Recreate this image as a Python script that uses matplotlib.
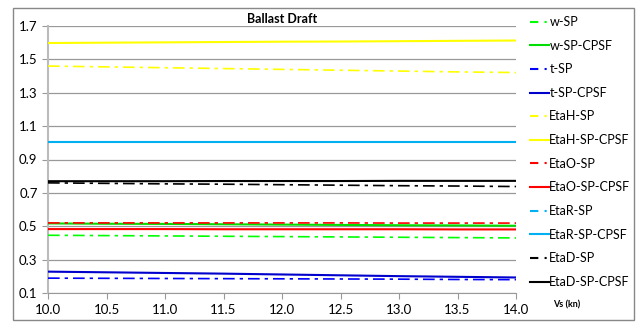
import matplotlib
matplotlib.use("Agg")
import matplotlib.pyplot as plt
from matplotlib.patches import Rectangle
from matplotlib.lines import Line2D

plt.rcParams['font.family'] = ['Lato', 'DejaVu Sans']

vs = [10.0, 10.5, 11.0, 11.5, 12.0, 12.5, 13.0, 13.5, 14.0]

w_sp        = [0.446, 0.444, 0.442, 0.440, 0.438, 0.436, 0.434, 0.432, 0.430]
w_sp_cpsf   = [0.517, 0.515, 0.514, 0.512, 0.510, 0.508, 0.506, 0.505, 0.503]
t_sp        = [0.189, 0.188, 0.187, 0.186, 0.185, 0.184, 0.183, 0.181, 0.180]
t_sp_cpsf   = [0.228, 0.224, 0.220, 0.216, 0.211, 0.206, 0.201, 0.197, 0.193]
etah_sp     = [1.460, 1.455, 1.450, 1.445, 1.440, 1.435, 1.430, 1.425, 1.421]
etah_sp_cpsf= [1.598, 1.600, 1.602, 1.604, 1.606, 1.607, 1.609, 1.611, 1.613]
etao_sp     = [0.520, 0.520, 0.520, 0.520, 0.520, 0.520, 0.519, 0.519, 0.519]
etao_sp_cpsf= [0.483, 0.483, 0.483, 0.482, 0.482, 0.482, 0.482, 0.481, 0.481]
etar_sp     = [1.004, 1.004, 1.004, 1.004, 1.004, 1.004, 1.004, 1.004, 1.004]
etar_sp_cpsf= [1.007, 1.007, 1.007, 1.007, 1.007, 1.007, 1.007, 1.007, 1.007]
etad_sp     = [0.760, 0.757, 0.754, 0.752, 0.749, 0.746, 0.743, 0.741, 0.738]
etad_sp_cpsf= [0.770, 0.770, 0.770, 0.771, 0.771, 0.771, 0.772, 0.772, 0.772]

labels = ['w-SP', 'w-SP-CPSF', 't-SP', 't-SP-CPSF', 'EtaH-SP', 'EtaH-SP-CPSF',
          'EtaO-SP', 'EtaO-SP-CPSF', 'EtaR-SP', 'EtaR-SP-CPSF', 'EtaD-SP', 'EtaD-SP-CPSF']
series = [w_sp, w_sp_cpsf, t_sp, t_sp_cpsf, etah_sp, etah_sp_cpsf,
          etao_sp, etao_sp_cpsf, etar_sp, etar_sp_cpsf, etad_sp, etad_sp_cpsf]
colors = ['#00FF00', '#00DD00', '#0000FF', '#0000CC', '#FFFF00', '#FFFF00',
          '#FF0000', '#FF0000', '#00B0F0', '#00B0F0', '#000000', '#000000']

yticks = [0.1, 0.3, 0.5, 0.7, 0.9, 1.1, 1.3, 1.5, 1.7]
xticks = [10.0, 10.5, 11.0, 11.5, 12.0, 12.5, 13.0, 13.5, 14.0]

fig = plt.figure(figsize=(6.38, 3.25), dpi=100)
ax = fig.add_axes([48/638, 1 - 293/325, (516-48)/638, (293-26)/325])

dashdot = (0, (7, 3, 2, 3))
handles = []
for i, (lab, s, c) in enumerate(zip(labels, series, colors)):
    ls = dashdot if i % 2 == 0 else '-'
    lw = 1.2 if i % 2 == 0 else 1.5
    ax.plot(vs, s, color=c, linestyle=ls, linewidth=lw, zorder=3)
    handles.append(Line2D([0], [0], color=c, linestyle=(0, (4, 3, 1, 3)) if i % 2 == 0 else '-', linewidth=1.5))

ax.set_xlim(10.0, 14.0)
ax.set_ylim(0.1, 1.7)
ax.set_yticks(yticks)
ax.set_xticks(xticks)
ax.set_xticklabels([f"{v:.1f}" for v in xticks], fontsize=9.5)
ax.set_yticklabels([f"{v:.1f}" for v in yticks], fontsize=9.5)
ax.grid(axis='y', color='#999999', linewidth=0.9)
ax.set_axisbelow(True)
for sp in ['top', 'right']:
    ax.spines[sp].set_visible(False)
ax.spines['left'].set_color('#BBBBBB')
ax.spines['left'].set_linewidth(1.5)
ax.spines['bottom'].set_color('#999999')
ax.tick_params(axis='both', colors='#999999', labelcolor='black', length=4, width=0.8)
ax.tick_params(axis='x', pad=4)

ax.set_title('Ballast Draft', fontsize=9, fontweight='bold', pad=2)

fig.text(553/638, 1 - 305/325, 'Vs (kn)', fontsize=6.5, fontweight='bold', va='center')

leg = fig.legend(handles, labels, loc='upper left', bbox_to_anchor=(525/638, 1 - 11/325),
                 frameon=False, fontsize=9, handlelength=1.5, handletextpad=0.05,
                 labelspacing=0.93, borderaxespad=0)

fig.patches.append(Rectangle((13/638, 1 - 320/325), (634-13)/638, (320-8)/325,
                             transform=fig.transFigure, fill=False,
                             edgecolor='#888888', linewidth=1.0))

fig.savefig('out.png', dpi=100)
